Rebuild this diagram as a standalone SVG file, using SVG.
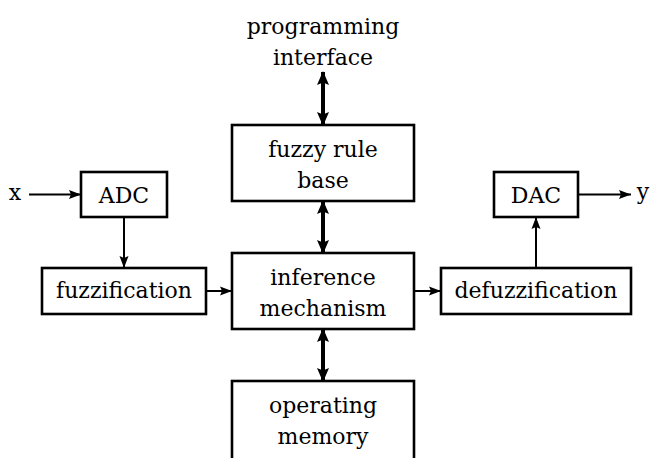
<svg xmlns="http://www.w3.org/2000/svg" width="650" height="458" viewBox="0 0 650 458">
<style>
.box{fill:#fff;stroke:#000;stroke-width:2.6}
.t{font-family:"DejaVu Serif",serif;font-size:22px;fill:#000;text-anchor:middle}
.thin{stroke:#000;stroke-width:2;fill:none;marker-end:url(#ah)}
.thick{stroke:#000;stroke-width:4;fill:none;marker-start:url(#bh);marker-end:url(#bh)}
</style>
<defs>
<marker id="ah" markerUnits="userSpaceOnUse" markerWidth="12" markerHeight="12" viewBox="0 0 12 12" refX="12" refY="6" orient="auto">
<path d="M0,1.5 L12,6 L0,10.5 L2,6 Z" fill="#000"/>
</marker>
<marker id="bh" markerUnits="userSpaceOnUse" markerWidth="14" markerHeight="14" viewBox="0 0 14 14" refX="13" refY="7" orient="auto-start-reverse">
<path d="M0,1 L14,7 L0,13 L2.5,7 Z" fill="#000"/>
</marker>
</defs>
<g id="connectors">
<line class="thin" x1="29" y1="194.5" x2="81" y2="194.5"/>
<line class="thin" x1="124" y1="217" x2="124" y2="268"/>
<line class="thin" x1="206" y1="291" x2="232" y2="291"/>
<line class="thin" x1="414" y1="291" x2="441" y2="291"/>
<line class="thin" x1="536" y1="268" x2="536" y2="217"/>
<line class="thin" x1="578" y1="194.5" x2="631" y2="194.5"/>
<line class="thick" x1="323" y1="72" x2="323" y2="125"/>
<line class="thick" x1="323" y1="201" x2="323" y2="253"/>
<line class="thick" x1="323" y1="329" x2="323" y2="381"/>
</g>
<g id="x-label"><text class="t" x="15" y="200">x</text></g>
<g id="y-label"><text class="t" x="643" y="199">y</text></g>
<g id="programming-interface">
<text class="t" x="323" y="34">programming</text>
<text class="t" x="323" y="65">interface</text>
</g>
<g id="adc">
<rect class="box" x="81" y="172" width="86" height="45"/>
<text class="t" x="124" y="203">ADC</text>
</g>
<g id="fuzzification">
<rect class="box" x="42" y="268" width="164" height="46"/>
<text class="t" x="124" y="298">fuzzification</text>
</g>
<g id="fuzzy-rule-base">
<rect class="box" x="232" y="125" width="182" height="76"/>
<text class="t" x="323" y="157">fuzzy rule</text>
<text class="t" x="323" y="188">base</text>
</g>
<g id="inference-mechanism">
<rect class="box" x="232" y="253" width="182" height="76"/>
<text class="t" x="323" y="285">inference</text>
<text class="t" x="323" y="316">mechanism</text>
</g>
<g id="operating-memory">
<rect class="box" x="232" y="381" width="182" height="90"/>
<text class="t" x="323" y="413">operating</text>
<text class="t" x="323" y="444">memory</text>
</g>
<g id="dac">
<rect class="box" x="494" y="172" width="84" height="45"/>
<text class="t" x="536" y="203">DAC</text>
</g>
<g id="defuzzification">
<rect class="box" x="441" y="268" width="190" height="46"/>
<text class="t" x="536" y="298">defuzzification</text>
</g>
</svg>
